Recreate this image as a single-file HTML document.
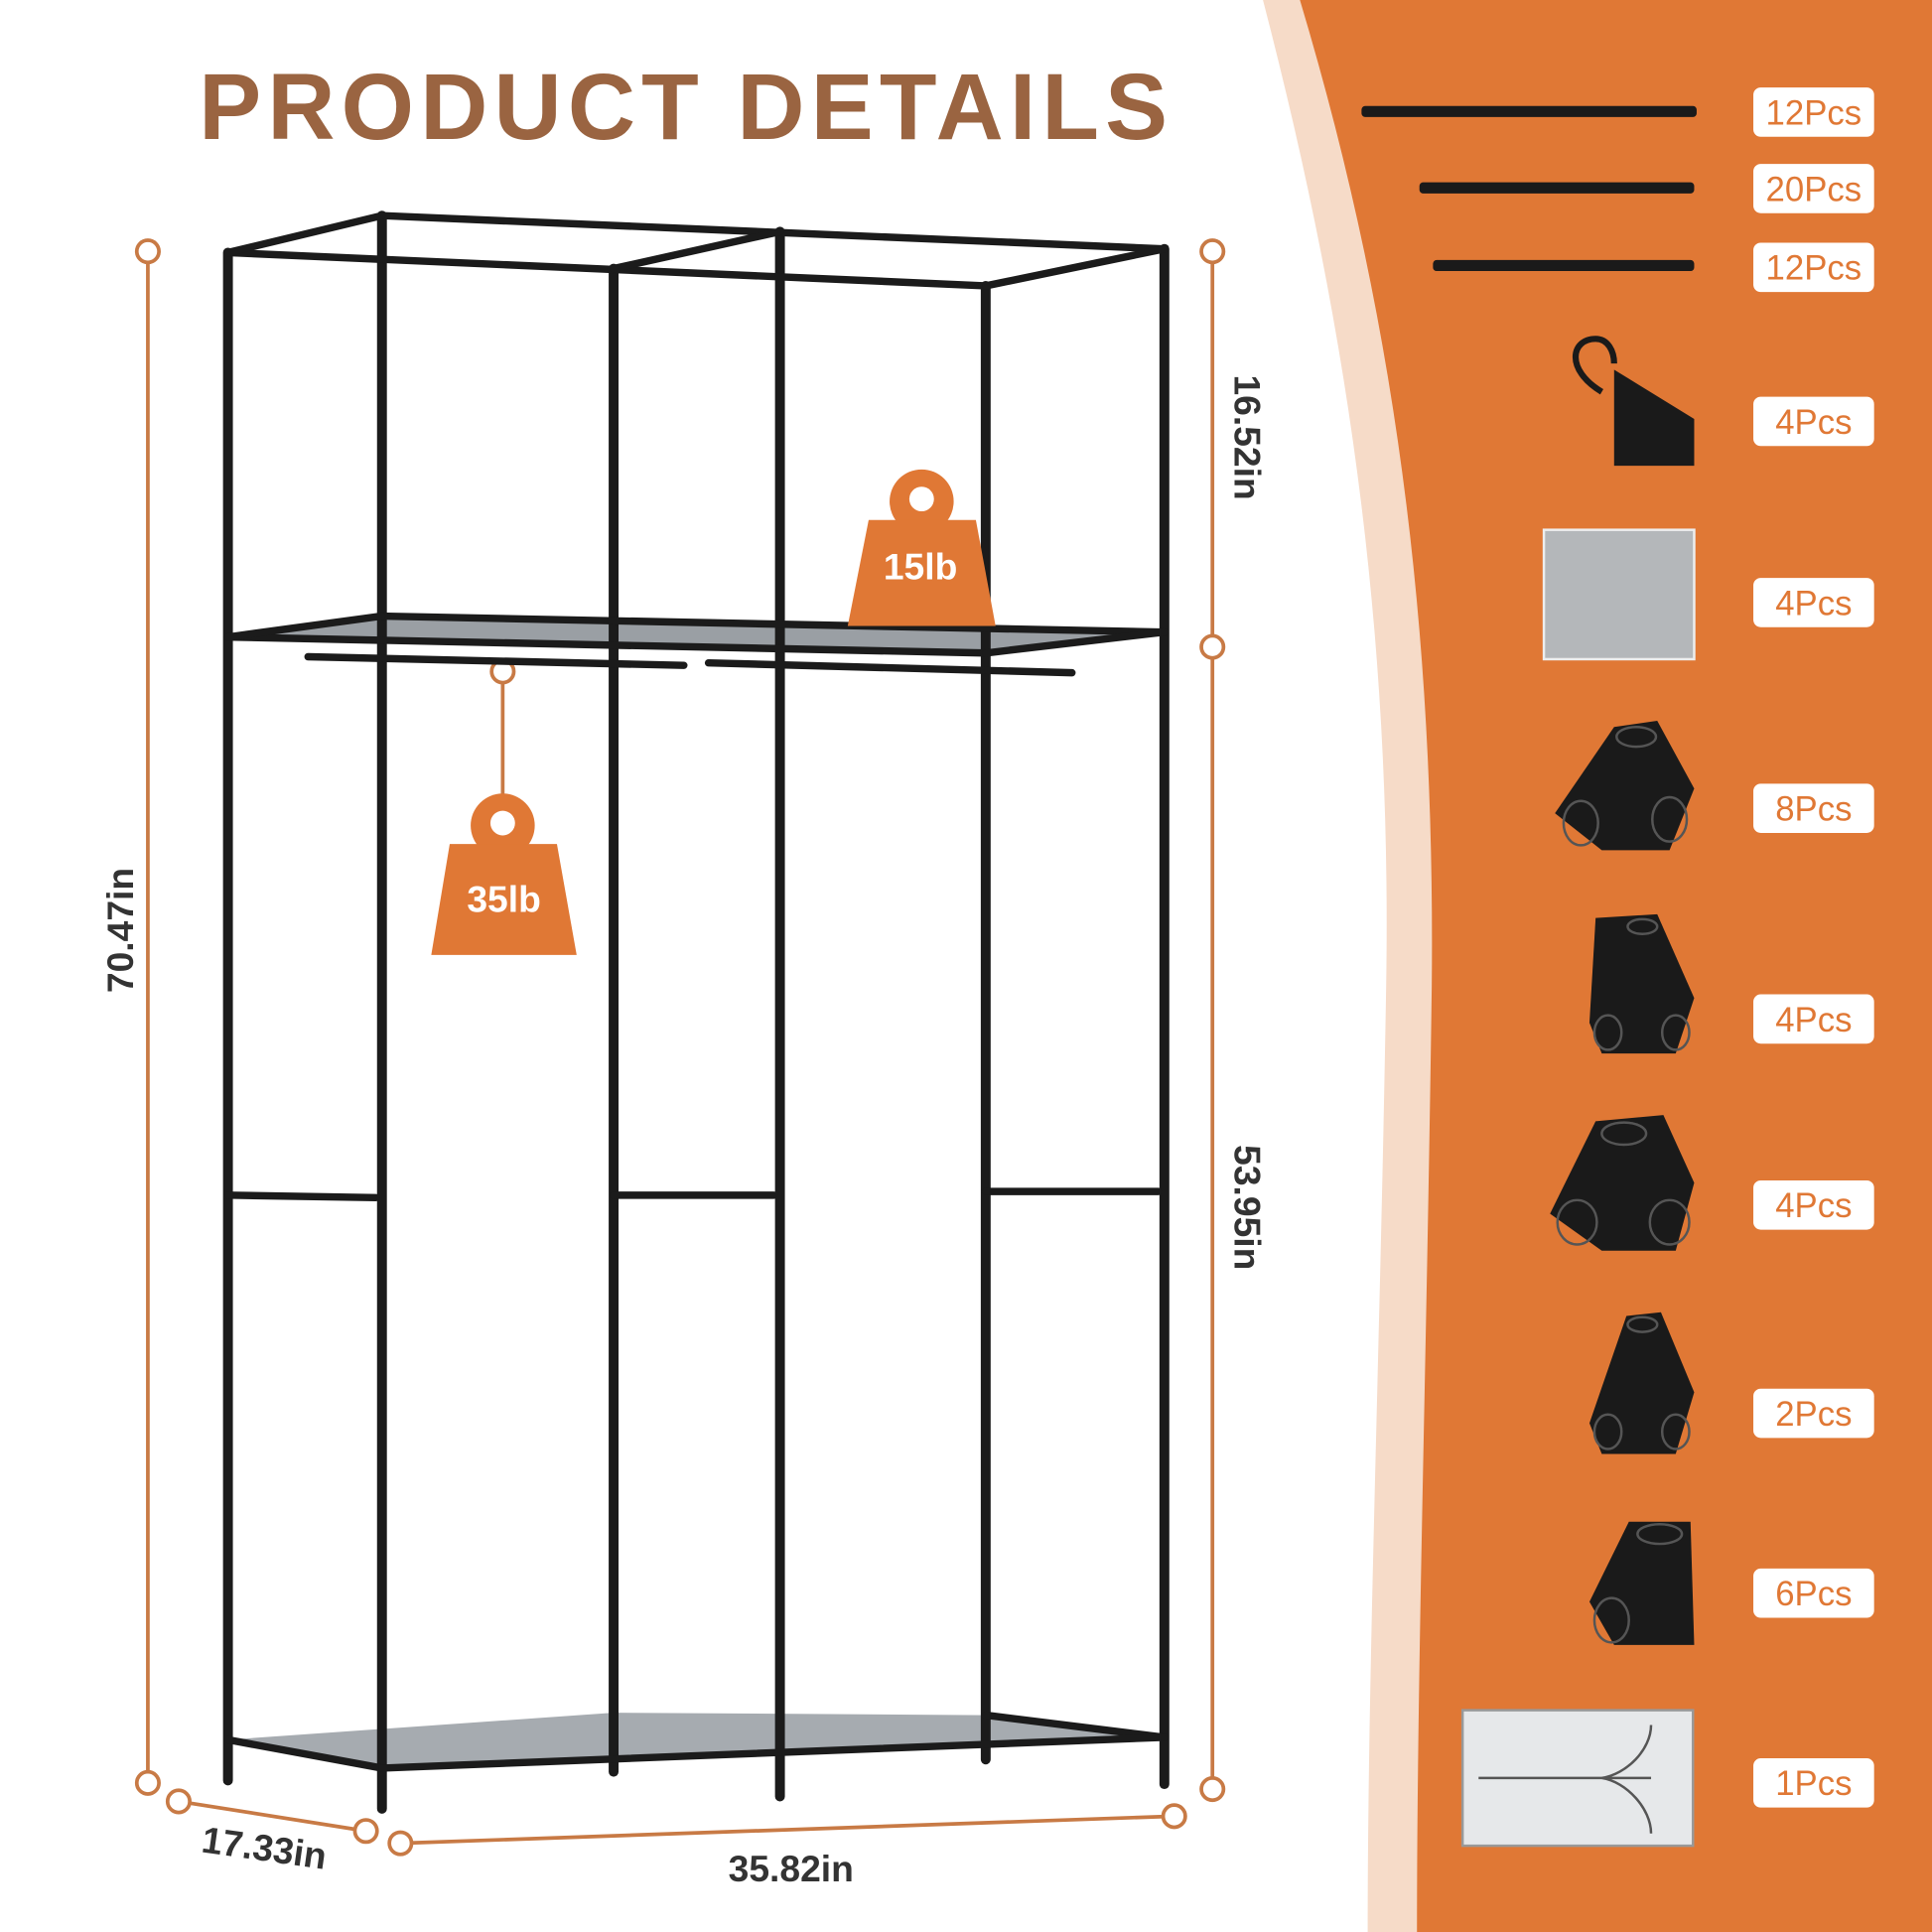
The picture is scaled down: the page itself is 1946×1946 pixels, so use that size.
<!DOCTYPE html>
<html><head><meta charset="utf-8"><style>
html,body{margin:0;padding:0;background:#fff}
svg{display:block}
text{font-family:"Liberation Sans",sans-serif}
</style></head><body>
<svg width="1946" height="1946" viewBox="0 0 1568 1568" xmlns="http://www.w3.org/2000/svg">
<rect width="1568" height="1568" fill="#fff"/>
<path d="M1025 0 C1090 250 1130 500 1125 800 C1120 1100 1110 1350 1110 1568 L1568 1568 L1568 0 Z" fill="#F6DBC8"/>
<path d="M1055 0 C1130 250 1165 500 1162 800 C1158 1100 1150 1350 1150 1568 L1568 1568 L1568 0 Z" fill="#E07835"/>
<text x="557" y="113" font-size="76" font-weight="bold" fill="#9A6441" text-anchor="middle" letter-spacing="5">PRODUCT DETAILS</text>
<g stroke="#C87A45" stroke-width="3" fill="#fff">
<line x1="120" y1="204" x2="120" y2="1447"/>
<line x1="984" y1="204" x2="984" y2="1452"/>
<line x1="145" y1="1462" x2="297" y2="1486"/>
<line x1="325" y1="1496" x2="953" y2="1474"/>
<line x1="408" y1="545" x2="408" y2="650"/>
<circle cx="120" cy="204" r="9"/><circle cx="120" cy="1447" r="9"/>
<circle cx="984" cy="204" r="9"/><circle cx="984" cy="525" r="9"/><circle cx="984" cy="1452" r="9"/>
<circle cx="145" cy="1462" r="9"/><circle cx="297" cy="1486" r="9"/>
<circle cx="325" cy="1496" r="9"/><circle cx="953" cy="1474" r="9"/>
<circle cx="408" cy="545" r="9"/>
</g>
<text transform="translate(108 755) rotate(-90)" font-size="30" font-weight="bold" fill="#333" text-anchor="middle">70.47in</text>
<text transform="translate(1002 355) rotate(90)" font-size="30" font-weight="bold" fill="#333" text-anchor="middle">16.52in</text>
<text transform="translate(1002 980) rotate(90)" font-size="30" font-weight="bold" fill="#333" text-anchor="middle">53.95in</text>
<text transform="translate(213 1510) rotate(8)" font-size="30" font-weight="bold" fill="#333" text-anchor="middle">17.33in</text>
<text x="642" y="1527" font-size="30" font-weight="bold" fill="#333" text-anchor="middle">35.82in</text>
<polygon points="185,517 310,500 945,513 800,530" fill="#9a9fa4"/>
<polygon points="185,1412 310,1435 945,1410 800,1392 498,1390" fill="#a6abb0"/>
<g stroke="#1b1b1b" stroke-width="8" stroke-linecap="round">
<line x1="185" y1="205" x2="185" y2="1445"/>
<line x1="498" y1="218" x2="498" y2="1438"/>
<line x1="800" y1="232" x2="800" y2="1428"/>
<line x1="310" y1="175" x2="310" y2="1468"/>
<line x1="633" y1="188" x2="633" y2="1458"/>
<line x1="945" y1="202" x2="945" y2="1448"/>
<g stroke-width="6">
<line x1="310" y1="175" x2="945" y2="202"/>
<line x1="185" y1="205" x2="800" y2="232"/>
<line x1="185" y1="205" x2="310" y2="175"/>
<line x1="800" y1="232" x2="945" y2="202"/>
<line x1="498" y1="218" x2="633" y2="188"/>
<line x1="310" y1="500" x2="945" y2="513"/>
<line x1="185" y1="517" x2="800" y2="530"/>
<line x1="185" y1="517" x2="310" y2="500"/>
<line x1="800" y1="530" x2="945" y2="513"/>
<line x1="250" y1="533" x2="555" y2="540"/>
<line x1="575" y1="538" x2="870" y2="546"/>
<line x1="185" y1="970" x2="305" y2="972"/>
<line x1="498" y1="970" x2="628" y2="970"/>
<line x1="800" y1="967" x2="940" y2="967"/>
<line x1="185" y1="1412" x2="310" y2="1435"/>
<line x1="800" y1="1392" x2="945" y2="1410"/>
<line x1="310" y1="1435" x2="945" y2="1410"/>
</g></g>
<g fill="#E07835">
<circle cx="748" cy="407" r="26"/><circle cx="748" cy="405" r="10" fill="#fff"/>
<polygon points="705,422 792,422 808,508 688,508"/>
<circle cx="408" cy="670" r="26"/><circle cx="408" cy="668" r="10" fill="#fff"/>
<polygon points="365,685 452,685 468,775 350,775"/>
</g>
<text x="747" y="470" font-size="30" font-weight="bold" fill="#fff" text-anchor="middle">15lb</text>
<text x="409" y="740" font-size="30" font-weight="bold" fill="#fff" text-anchor="middle">35lb</text>
<g fill="#1a1a1a">
<rect x="1105" y="86" width="272" height="9" rx="3"/>
<rect x="1152" y="148" width="223" height="9" rx="3"/>
<rect x="1163" y="211" width="212" height="9" rx="3"/>
<path d="M1310 300 L1375 340 L1375 378 L1310 378 Z"/>
<path d="M1300 318 C1270 300 1275 275 1295 275 C1305 275 1310 285 1310 295" fill="none" stroke="#1a1a1a" stroke-width="5"/>
<path d="M1310 590 L1345 585 L1375 640 L1355 690 L1300 690 L1262 660 Z"/>
<path d="M1295 745 L1345 742 L1375 810 L1360 855 L1300 855 L1290 830 Z"/>
<path d="M1295 910 L1350 905 L1375 960 L1360 1015 L1300 1015 L1258 985 Z"/>
<path d="M1320 1068 L1348 1065 L1375 1130 L1360 1180 L1300 1180 L1290 1155 Z"/>
<path d="M1322 1235 L1372 1235 L1375 1335 L1310 1335 L1290 1300 Z"/>
</g>
<g fill="none" stroke="#555" stroke-width="2">
<ellipse cx="1328" cy="598" rx="16" ry="8"/><ellipse cx="1283" cy="668" rx="14" ry="18"/><ellipse cx="1355" cy="665" rx="14" ry="18"/>
<ellipse cx="1333" cy="752" rx="12" ry="6"/><ellipse cx="1305" cy="838" rx="11" ry="14"/><ellipse cx="1360" cy="838" rx="11" ry="14"/>
<ellipse cx="1318" cy="920" rx="18" ry="9"/><ellipse cx="1280" cy="992" rx="16" ry="18"/><ellipse cx="1355" cy="992" rx="16" ry="18"/>
<ellipse cx="1333" cy="1075" rx="12" ry="6"/><ellipse cx="1305" cy="1162" rx="11" ry="14"/><ellipse cx="1360" cy="1162" rx="11" ry="14"/>
<ellipse cx="1347" cy="1245" rx="18" ry="8"/><ellipse cx="1308" cy="1315" rx="14" ry="18"/>
</g>
<rect x="1253" y="430" width="122" height="105" fill="#b4b7ba" stroke="#eee" stroke-width="2"/>
<rect x="1187" y="1388" width="187" height="110" fill="#e6e8ea" stroke="#999" stroke-width="2"/>
<path d="M1200 1443 H1340 M1340 1400 C1340 1420 1320 1440 1300 1443 M1340 1488 C1340 1468 1320 1446 1300 1443" fill="none" stroke="#555" stroke-width="2"/>
<g fill="#fff">
<rect x="1423" y="71" width="98" height="40" rx="6"/>
<rect x="1423" y="133" width="98" height="40" rx="6"/>
<rect x="1423" y="197" width="98" height="40" rx="6"/>
<rect x="1423" y="322" width="98" height="40" rx="6"/>
<rect x="1423" y="469" width="98" height="40" rx="6"/>
<rect x="1423" y="636" width="98" height="40" rx="6"/>
<rect x="1423" y="807" width="98" height="40" rx="6"/>
<rect x="1423" y="958" width="98" height="40" rx="6"/>
<rect x="1423" y="1127" width="98" height="40" rx="6"/>
<rect x="1423" y="1273" width="98" height="40" rx="6"/>
<rect x="1423" y="1427" width="98" height="40" rx="6"/>
</g>
<g font-size="28" fill="#E07835" text-anchor="middle">
<text x="1472" y="101">12Pcs</text>
<text x="1472" y="163">20Pcs</text>
<text x="1472" y="227">12Pcs</text>
<text x="1472" y="352">4Pcs</text>
<text x="1472" y="499">4Pcs</text>
<text x="1472" y="666">8Pcs</text>
<text x="1472" y="837">4Pcs</text>
<text x="1472" y="988">4Pcs</text>
<text x="1472" y="1157">2Pcs</text>
<text x="1472" y="1303">6Pcs</text>
<text x="1472" y="1457">1Pcs</text>
</g>
</svg>
</body></html>
